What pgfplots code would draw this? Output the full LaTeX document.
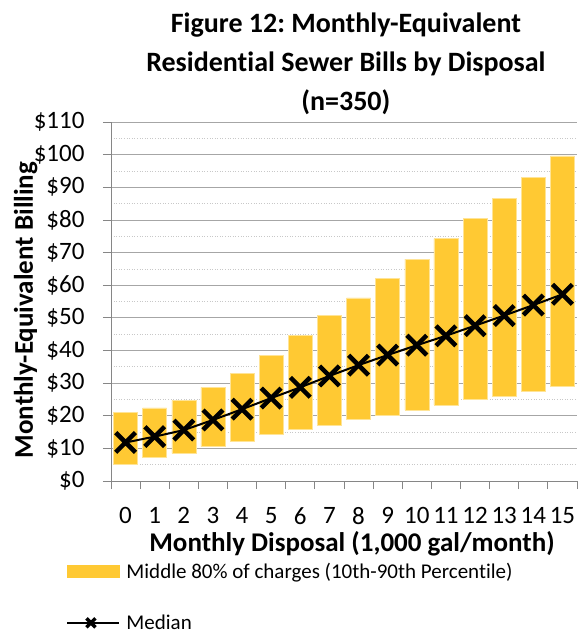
\documentclass[border=0pt]{standalone}
\usepackage{pgfplots}
\usepackage{pgfplotstable}
\pgfplotsset{compat=1.18}
\usepackage{fontspec}
\setmainfont{Carlito}[Ligatures=NoCommon]
\frenchspacing
\definecolor{barfill}{RGB}{255,201,51}
\definecolor{baredge}{RGB}{255,228,150}
\definecolor{gridmaj}{RGB}{166,166,166}
\definecolor{gridmin}{RGB}{200,200,200}
\definecolor{axisgray}{RGB}{134,134,134}
\pgfplotstableread{
x lo med hi
0 5.1 11.8 20.9
1 7.4 13.6 22.4
2 8.5 15.6 24.7
3 10.5 18.7 28.7
4 12.1 22.0 33.0
5 14.3 25.4 38.5
6 15.7 28.7 44.5
7 17.2 32.2 50.8
8 19.0 35.5 56.1
9 20.1 38.6 62.1
10 21.7 41.6 68.0
11 23.3 44.5 74.3
12 25.0 47.6 80.5
13 26.0 50.7 86.5
14 27.6 53.9 93.1
15 29.1 57.2 99.6
}\datatable
\pgfplotsset{common/.style={
  scale only axis,
  width=466bp, height=359bp,
  xmin=-0.5, xmax=15.5, ymin=0, ymax=110,
  at={(0,0)}, anchor=south west,
}}
\begin{document}
\begin{tikzpicture}
\useasboundingbox (-111bp,-152bp) rectangle (468bp,481bp);
\begin{axis}[
  common,
  ybar stacked, bar width=24bp,
  axis x line*=bottom, axis y line*=left,
  axis line style={axisgray, line width=0.8bp},
  xtick={0,...,15},
  xticklabels={0,1,2,3,4,5,6,7,8,9,10,11,12,13,14,15},
  minor xtick={-0.5,0.5,...,15.5},
  ytick={0,10,...,110},
  yticklabels={\$0,\$10,\$20,\$30,\$40,\$50,\$60,\$70,\$80,\$90,\$100,\$110},
  minor ytick={5,15,...,105},
  tick align=outside,
  major tick length=8bp, minor tick length=8bp,
  major x tick style={draw=none},
  minor x tick style={axisgray, line width=0.8bp},
  major y tick style={axisgray, line width=0.8bp},
  minor y tick style={draw=none},
  ymajorgrids=true, yminorgrids=true,
  major grid style={gridmaj, line width=0.8bp},
  minor grid style={gridmin, line width=0.6bp, dotted},
  tick label style={font=\fontsize{25bp}{30bp}\selectfont},
  xticklabel style={yshift=-15bp},
  yticklabel style={xshift=-15bp},
  every axis y label/.style={at={(axis description cs:-0.183,0.476)}, rotate=90, anchor=center},
  every axis x label/.style={at={(axis description cs:0.517,-0.176)}, anchor=center},
  label style={font=\fontsize{27bp}{32bp}\selectfont\bfseries},
  ylabel={Monthly-Equivalent Billing},
  xlabel={Monthly Disposal (1,000 gal/month)},
  title={Figure 12: Monthly-Equivalent\\Residential Sewer Bills by Disposal\\(n=350)},
  every axis title/.style={at={(axis description cs:0.504,1.162)}, anchor=center, align=center,
     font=\fontsize{28bp}{39bp}\selectfont\bfseries},
  legend style={at={(axis description cs:-0.096,-0.222)}, anchor=north west, draw=none, fill=none,
     font=\fontsize{21bp}{25bp}\selectfont, row sep=31bp, column sep=4bp, inner sep=0pt,
     nodes={inner sep=2bp}},
  legend cell align=left,
  clip=false,
]
\addplot[draw=none, fill=none, forget plot] table[x=x, y=lo] {\datatable};
\addplot[fill=barfill, draw=baredge, line width=0.6bp,
  legend image code/.code={\fill[barfill] (0bp,-6bp) rectangle (52bp,6bp);}]
  table[x=x, y expr=\thisrow{hi}-\thisrow{lo}] {\datatable};
\addlegendentry{Middle 80\% of charges (10th-90th Percentile)}
\addlegendimage{legend image code/.code={\draw[black, line width=2bp] (0bp,0bp) -- (52bp,0bp);
     \draw[black, line width=3.5bp] (19bp,-4.5bp) -- (28bp,4.5bp) (19bp,4.5bp) -- (28bp,-4.5bp);}}
\addlegendentry{Median}
\end{axis}
\begin{axis}[common, hide axis, clip=false]
\addplot[black, line width=2bp, mark=x,
  mark size=14bp, mark options={line width=4.5bp}]
  table[x=x, y=med] {\datatable};
\end{axis}
\end{tikzpicture}
\end{document}
